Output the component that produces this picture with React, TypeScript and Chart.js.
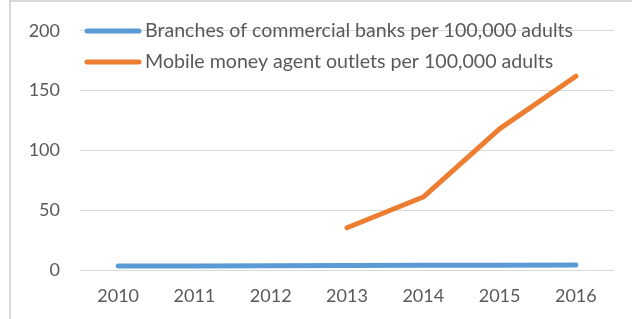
import React, { useEffect, useRef } from "react";
import { Chart, registerables } from "chart.js";

Chart.register(...registerables);

const years = ["2010", "2011", "2012", "2013", "2014", "2015", "2016"];
const bankBranches = [3.3, 3.4, 3.6, 3.7, 3.9, 4.0, 4.1];
const mobileAgents = [null, null, null, 35.3, 61, 118, 162];
const seriesNames = [
  "Branches of commercial banks per 100,000 adults",
  "Mobile money agent outlets per 100,000 adults",
];
const yTicks = [0, 50, 100, 150, 200];

const FONT = "Lato, 'Open Sans', sans-serif";
const TEXT = "#595959";
const GRID = "#d9d9d9";

const framePlugin = {
  id: "frame",
  beforeDraw(chart: any) {
    const ctx = chart.ctx;
    ctx.save();
    ctx.fillStyle = "#ffffff";
    ctx.fillRect(0, 0, chart.width, chart.height);
    ctx.fillStyle = GRID;
    ctx.fillRect(9, 0, 2, chart.height);
    ctx.fillRect(9, 0, chart.width - 9, 2);
    ctx.restore();
  },
};

const legendPlugin = {
  id: "inlineLegend",
  afterDatasetsDraw(chart: any) {
    const ctx = chart.ctx;
    ctx.save();
    const rows = [31, 62];
    chart.data.datasets.forEach((ds: any, i: number) => {
      const y = rows[i];
      ctx.strokeStyle = ds.borderColor;
      ctx.lineWidth = 5;
      ctx.lineCap = "round";
      ctx.beginPath();
      ctx.moveTo(87, y);
      ctx.lineTo(139, y);
      ctx.stroke();
      ctx.fillStyle = TEXT;
      ctx.font = `19.6px ${FONT}`;
      ctx.textBaseline = "middle";
      ctx.textAlign = "left";
      ctx.fillText(ds.label, 145, y);
    });
    ctx.restore();
  },
};

export default function App() {
  const ref = useRef<HTMLCanvasElement>(null);
  useEffect(() => {
    if (!ref.current) return;
    const chart = new Chart(ref.current, {
      type: "line",
      data: {
        labels: years,
        datasets: [
          {
            label: seriesNames[0],
            data: bankBranches,
            borderColor: "#5B9BD5",
            backgroundColor: "#5B9BD5",
            borderWidth: 5,
            borderCapStyle: "round",
            borderJoinStyle: "round",
            pointRadius: 0,
            tension: 0,
          },
          {
            label: seriesNames[1],
            data: mobileAgents,
            borderColor: "#ED7D31",
            backgroundColor: "#ED7D31",
            borderWidth: 5,
            borderCapStyle: "round",
            borderJoinStyle: "round",
            pointRadius: 0,
            tension: 0,
          },
        ],
      },
      options: {
        animation: false,
        responsive: false,
        layout: { padding: { left: 0, right: 18, top: 30, bottom: 0 } },
        plugins: { legend: { display: false }, tooltip: { enabled: false } },
        scales: {
          x: {
            offset: true,
            grid: { display: false, drawTicks: false },
            border: { display: false },
            ticks: {
              color: TEXT,
              font: { family: FONT, size: 18 },
              padding: 15,
              maxRotation: 0,
            },
            afterFit(scale: any) {
              scale.height = 49;
            },
          },
          y: {
            min: 0,
            max: 200,
            grid: { color: GRID, lineWidth: 1, drawTicks: false },
            border: { display: false },
            ticks: {
              color: TEXT,
              font: { family: FONT, size: 18 },
              padding: 20,
              callback: (v: any) => (yTicks.includes(Number(v)) ? String(v) : ""),
              stepSize: 50,
            },
            afterFit(scale: any) {
              scale.width = 80;
            },
          },
        },
      },
      plugins: [framePlugin, legendPlugin],
    });
    return () => chart.destroy();
  }, []);
  return (
    <div style={{ position: "fixed", left: 0, top: 0, width: 632, height: 319, background: "#fff" }}>
      <canvas ref={ref} width={632} height={319} style={{ display: "block" }} />
    </div>
  );
}
